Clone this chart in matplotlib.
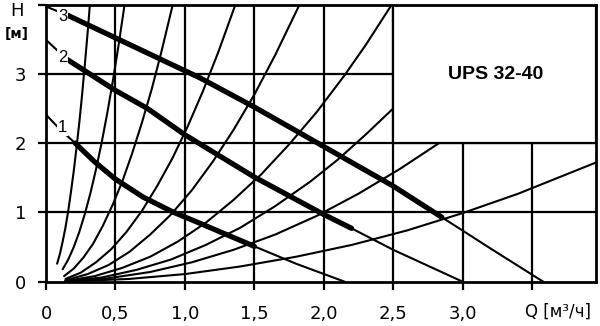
import matplotlib
matplotlib.use("Agg")
import matplotlib.pyplot as plt
from matplotlib.patches import Rectangle

plt.rcParams['font.family'] = ['DejaVu Sans']

# ---- data ----
x_ticks = [0, 0.5, 1.0, 1.5, 2.0, 2.5, 3.0, 3.5]
x_labels = ['0', '0,5', '1,0', '1,5', '2,0', '2,5', '3,0', '']
y_ticks = [0, 1, 2, 3, 4]
y_labels = ['0', '1', '2', '3', '']

# pump curves (speed steps 1..3)
pump1_q = [0, 0.1, 0.21, 0.35, 0.5, 0.7, 0.92, 1.1, 1.3, 1.5, 1.8, 2.15]
pump1_h = [2.41, 2.2, 2.0, 1.73, 1.48, 1.22, 1.0, 0.85, 0.68, 0.51, 0.26, 0.0]
pump1_thick = (2, 9)

pump2_q = [0, 0.15, 0.5, 0.73, 1.0, 1.5, 2.0, 2.2, 2.5, 3.0]
pump2_h = [3.49, 3.21, 2.76, 2.5, 2.12, 1.51, 0.97, 0.77, 0.46, 0.0]
pump2_thick = (1, 7)

pump3_q = [0, 0.15, 0.53, 1.11, 1.5, 2.0, 2.5, 2.85, 3.2, 3.58]
pump3_h = [3.97, 3.85, 3.49, 2.94, 2.52, 1.95, 1.38, 0.93, 0.48, 0.0]
pump3_thick = (1, 7)

pump_labels = ['1', '2', '3']
pump_label_q = [0.12, 0.12, 0.12]
pump_label_h = [2.22, 3.24, 3.82]

# system curves (thin lines fanning from the origin)
sys_q = [
    [0.08, 0.10, 0.12, 0.14, 0.16, 0.18, 0.20, 0.22, 0.24, 0.26, 0.28, 0.30, 0.316],
    [0.12, 0.16, 0.20, 0.24, 0.28, 0.32, 0.36, 0.40, 0.44, 0.48, 0.52, 0.566],
    [0.13, 0.20, 0.27, 0.34, 0.41, 0.48, 0.55, 0.62, 0.69, 0.76, 0.83, 0.913],
    [0.14, 0.25, 0.36, 0.47, 0.58, 0.69, 0.80, 0.91, 1.02, 1.13, 1.24, 1.364],
    [0.14, 0.30, 0.45, 0.60, 0.75, 0.90, 1.05, 1.20, 1.35, 1.50, 1.65, 1.826],
    [0.14, 0.35, 0.55, 0.75, 0.95, 1.15, 1.35, 1.55, 1.75, 1.95, 2.15, 2.30, 2.49],
    [0.14, 0.40, 0.65, 0.90, 1.15, 1.40, 1.65, 1.90, 2.10, 2.30, 2.50],
    [0.14, 0.45, 0.75, 1.05, 1.35, 1.65, 1.95, 2.25, 2.55, 2.83],
    [0.14, 0.60, 1.00, 1.40, 1.80, 2.20, 2.60, 3.00, 3.40, 3.96],
]
sys_h = [
    [0.26, 0.40, 0.58, 0.78, 1.02, 1.30, 1.60, 1.94, 2.30, 2.70, 3.14, 3.60, 4.0],
    [0.18, 0.32, 0.50, 0.72, 0.98, 1.28, 1.62, 2.00, 2.42, 2.88, 3.38, 4.0],
    [0.08, 0.19, 0.35, 0.55, 0.81, 1.11, 1.45, 1.85, 2.29, 2.77, 3.31, 4.0],
    [0.04, 0.13, 0.28, 0.47, 0.72, 1.02, 1.38, 1.78, 2.24, 2.75, 3.31, 4.0],
    [0.02, 0.11, 0.24, 0.43, 0.68, 0.97, 1.32, 1.73, 2.19, 2.70, 3.27, 4.0],
    [0.01, 0.08, 0.20, 0.36, 0.58, 0.85, 1.18, 1.55, 1.98, 2.45, 2.98, 3.41, 4.0],
    [0.01, 0.06, 0.17, 0.32, 0.53, 0.78, 1.09, 1.44, 1.76, 2.12, 2.50],
    [0.005, 0.05, 0.14, 0.28, 0.46, 0.68, 0.95, 1.27, 1.63, 2.0],
    [0.002, 0.04, 0.11, 0.22, 0.36, 0.53, 0.74, 0.99, 1.27, 1.72],
]

title_text = 'UPS 32-40'
x_max = 3.96
y_max = 4.0

# ---- drawing ----
fig = plt.figure(figsize=(6.0, 3.26), dpi=100)
ax = fig.add_axes([46 / 600, (326 - 281.7) / 326, 550 / 600, 277.2 / 326])
ax.set_xlim(0, x_max)
ax.set_ylim(0, y_max)

for q, h in zip(sys_q, sys_h):
    ax.plot(q, h, color='black', lw=1.5, solid_capstyle='round',
            solid_joinstyle='round', zorder=2)

for q, h, (a, b) in [(pump1_q, pump1_h, pump1_thick),
                     (pump2_q, pump2_h, pump2_thick),
                     (pump3_q, pump3_h, pump3_thick)]:
    ax.plot(q, h, color='black', lw=1.5, zorder=2)
    ax.plot(q[a:b + 1], h[a:b + 1], color='black', lw=3.8,
            solid_capstyle='round', solid_joinstyle='round', zorder=2.5)

for lbl, q, h in zip(pump_labels, pump_label_q, pump_label_h):
    ax.text(q, h, lbl, fontsize=12, ha='center', va='center', zorder=5,
            family='Liberation Sans',
            bbox=dict(facecolor='white', edgecolor='none', pad=0.5))

# grid
for xv in x_ticks[1:]:
    ax.plot([xv, xv], [0, y_max], color='black', lw=1.6, zorder=1)
for yv in y_ticks[1:-1]:
    ax.plot([0, x_max], [yv, yv], color='black', lw=1.6, zorder=1)

# title box (blank area without grid)
ax.add_patch(Rectangle((2.5, 2.0), x_max - 2.5, y_max - 2.0,
                       facecolor='white', edgecolor='black', lw=1.6, zorder=3))
ax.text(3.24, 2.99, title_text, fontsize=14, fontweight='bold',
        ha='center', va='center', zorder=4, family='Liberation Sans')

for s in ax.spines.values():
    s.set_linewidth(2.0)
    s.set_zorder(6)

ax.set_xticks(x_ticks)
ax.set_xticklabels(x_labels)
ax.set_yticks(y_ticks)
ax.set_yticklabels(y_labels)
ax.tick_params(axis='x', direction='out', length=6, width=1.6, pad=11, labelsize=13)
ax.tick_params(axis='y', direction='out', length=6, width=1.6, pad=8, labelsize=13)

fig.text(525 / 600, 1 - 312 / 326, 'Q [м³/ч]', fontsize=12, ha='left', va='center')
fig.text(17 / 600, 1 - 11 / 326, 'H', fontsize=13, ha='center', va='center')
fig.text(17 / 600, 1 - 34 / 326, '[м]', fontsize=10, fontweight='bold',
         ha='center', va='center')

fig.savefig('out.png', dpi=100, facecolor='white')
